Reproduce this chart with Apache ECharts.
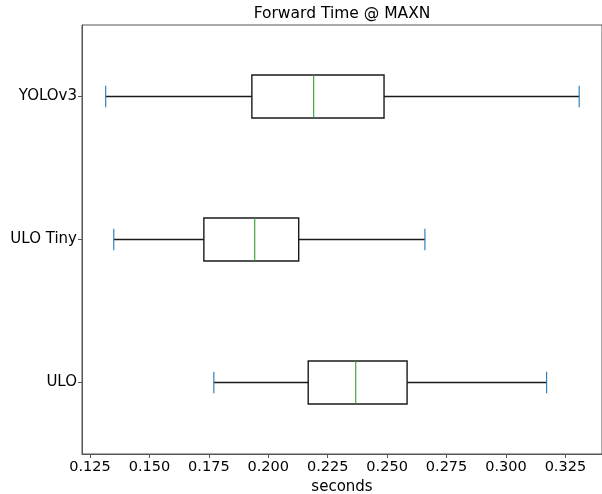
<!DOCTYPE html>
<html>
<head>
<meta charset="utf-8">
<script src="https://cdn.jsdelivr.net/npm/echarts@6/dist/echarts.min.js"></script>
<style>
  html, body { margin: 0; padding: 0; background: #fff; }
  #chart { width: 602px; height: 494px; }
</style>
</head>
<body>
<div id="chart"></div>
<script>
// Horizontal box plot of forward time per model (matplotlib-style look).
const categories = ["ULO", "ULO Tiny", "YOLOv3"];
const whiskerLow = [0.1771, 0.1350, 0.1316];
const q1 = [0.2168, 0.1729, 0.1931];
const median = [0.2368, 0.1943, 0.2191];
const q3 = [0.2584, 0.2128, 0.2487];
const whiskerHigh = [0.3171, 0.2659, 0.3308];
const xTicks = [0.125, 0.15, 0.175, 0.2, 0.225, 0.25, 0.275, 0.3, 0.325];

const rows = categories.map((c, i) => [i, whiskerLow[i], q1[i], median[i], q3[i], whiskerHigh[i]]);

const FONT = "DejaVu Sans";
const chart = echarts.init(document.getElementById("chart"));

function renderBox(params, api) {
  const cat = api.value(0);
  const lo = api.coord([api.value(1), cat]);
  const b1 = api.coord([api.value(2), cat]);
  const md = api.coord([api.value(3), cat]);
  const b3 = api.coord([api.value(4), cat]);
  const hi = api.coord([api.value(5), cat]);
  const band = api.size([0, 1])[1];
  const half = band * 0.15;   // box width 0.3 of a band
  const cap = band * 0.075;   // caps half as wide as the box
  const y = lo[1];
  const dark = { stroke: "#1a1a1a", lineWidth: 1.4, fill: null };
  return {
    type: "group",
    children: [
      { type: "line", shape: { x1: lo[0], y1: y, x2: b1[0], y2: y }, style: dark },
      { type: "line", shape: { x1: b3[0], y1: y, x2: hi[0], y2: y }, style: dark },
      { type: "rect", shape: { x: b1[0], y: y - half, width: b3[0] - b1[0], height: half * 2 }, style: dark },
      { type: "line", shape: { x1: md[0], y1: y - half, x2: md[0], y2: y + half },
        style: { stroke: "#2ca02c", lineWidth: 1.1 } },
      { type: "line", shape: { x1: lo[0], y1: y - cap, x2: lo[0], y2: y + cap },
        style: { stroke: "#1f77b4", lineWidth: 1.1 } },
      { type: "line", shape: { x1: hi[0], y1: y - cap, x2: hi[0], y2: y + cap },
        style: { stroke: "#1f77b4", lineWidth: 1.1 } },
    ],
  };
}

chart.setOption({
  animation: false,
  textStyle: { fontFamily: FONT },
  title: {
    text: "Forward Time @ MAXN", left: 337, textAlign: "center", top: 1,
    textStyle: { fontFamily: FONT, fontSize: 15.5, fontWeight: "normal", color: "#000" },
  },
  grid: { left: 82, right: 0, top: 25, bottom: 40, show: true, borderColor: "#555", borderWidth: 1,
    containLabel: false, outerBoundsMode: "none" },
  xAxis: {
    type: "value", min: 0.12163, max: 0.3404,
    name: "seconds", nameLocation: "middle", nameGap: 23,
    nameTextStyle: { fontFamily: FONT, fontSize: 15, color: "#000" },
    axisLine: { show: true, lineStyle: { color: "#555", width: 1 } },
    axisTick: { show: true, length: 4, customValues: xTicks, lineStyle: { color: "#555" } },
    axisLabel: { customValues: xTicks, fontFamily: FONT, fontSize: 14.5, color: "#000", margin: 6,
      formatter: (v) => v.toFixed(3) },
    splitLine: { show: false },
  },
  yAxis: {
    type: "category", data: categories,
    axisLine: { show: true, lineStyle: { color: "#555", width: 1 } },
    axisTick: { show: true, alignWithLabel: true, length: 4, lineStyle: { color: "#555" } },
    axisLabel: { fontFamily: FONT, fontSize: 15, color: "#000", margin: 5 },
    splitLine: { show: false },
  },
  series: [{
    type: "custom",
    renderItem: renderBox,
    encode: { x: [1, 2, 3, 4, 5], y: 0 },
    data: rows,
  }],
});
</script>
</body>
</html>
